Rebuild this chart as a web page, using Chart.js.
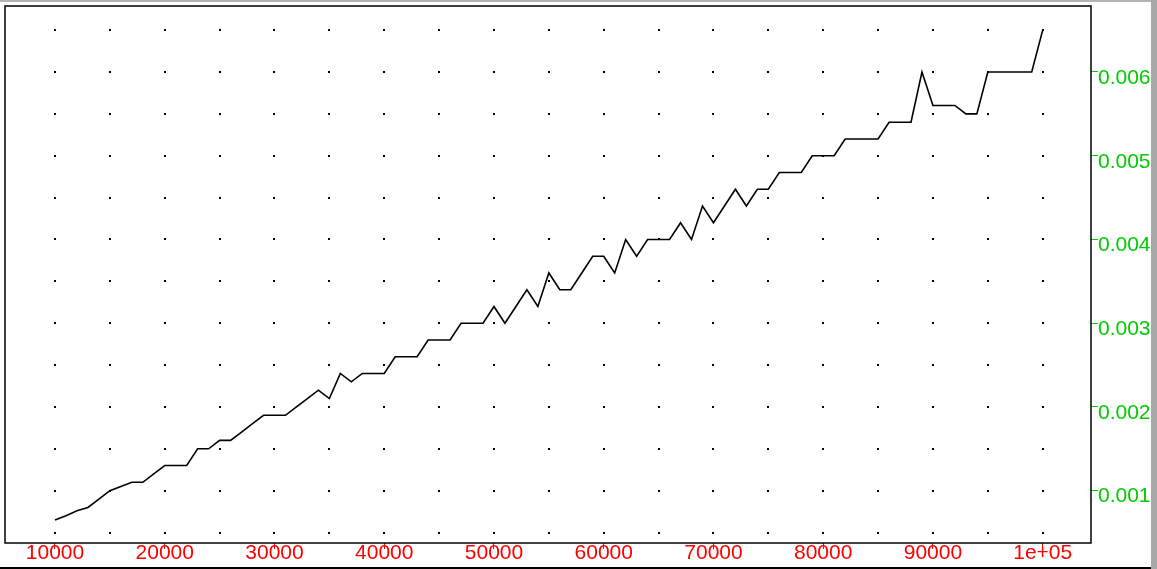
<!DOCTYPE html>
<html>
<head>
<meta charset="utf-8">
<script src="https://cdn.jsdelivr.net/npm/chart.js@4/dist/chart.umd.min.js"></script>
<style>
  html, body { margin: 0; padding: 0; background: #fff; }
  canvas { display: block; }
</style>
</head>
<body>
<canvas id="chart" width="1157" height="569"></canvas>
<script>
// problem size along x, measured time along y
const sizes = [
    10000, 11000, 12000, 13000, 14000, 15000, 16000, 17000, 18000, 19000,
    20000, 21000, 22000, 23000, 24000, 25000, 26000, 27000, 28000, 29000,
    30000, 31000, 32000, 33000, 34000, 35000, 36000, 37000, 38000, 39000,
    40000, 41000, 42000, 43000, 44000, 45000, 46000, 47000, 48000, 49000,
    50000, 51000, 52000, 53000, 54000, 55000, 56000, 57000, 58000, 59000,
    60000, 61000, 62000, 63000, 64000, 65000, 66000, 67000, 68000, 69000,
    70000, 71000, 72000, 73000, 74000, 75000, 76000, 77000, 78000, 79000,
    80000, 81000, 82000, 83000, 84000, 85000, 86000, 87000, 88000, 89000,
    90000, 91000, 92000, 93000, 94000, 95000, 96000, 97000, 98000, 99000,
    100000
];
const times = [
    0.00065, 0.0007, 0.00076, 0.0008, 0.0009, 0.001, 0.00105, 0.0011, 0.0011, 0.0012,
    0.0013, 0.0013, 0.0013, 0.0015, 0.0015, 0.0016, 0.0016, 0.0017, 0.0018, 0.0019,
    0.0019, 0.0019, 0.002, 0.0021, 0.0022, 0.0021, 0.0024, 0.0023, 0.0024, 0.0024,
    0.0024, 0.0026, 0.0026, 0.0026, 0.0028, 0.0028, 0.0028, 0.003, 0.003, 0.003,
    0.0032, 0.003, 0.0032, 0.0034, 0.0032, 0.0036, 0.0034, 0.0034, 0.0036, 0.0038,
    0.0038, 0.0036, 0.004, 0.0038, 0.004, 0.004, 0.004, 0.0042, 0.004, 0.0044,
    0.0042, 0.0044, 0.0046, 0.0044, 0.0046, 0.0046, 0.0048, 0.0048, 0.0048, 0.005,
    0.005, 0.005, 0.0052, 0.0052, 0.0052, 0.0052, 0.0054, 0.0054, 0.0054, 0.006,
    0.0056, 0.0056, 0.0056, 0.0055, 0.0055, 0.006, 0.006, 0.006, 0.006, 0.006,
    0.0065
];
const xTicks = [10000, 20000, 30000, 40000, 50000, 60000, 70000, 80000, 90000, 100000];
const yTicks = [0.001, 0.002, 0.003, 0.004, 0.005, 0.006];

const FONT = { family: "'Liberation Sans', Arial, sans-serif", size: 21 };

// dotted grid: a small dot at every 5000 on x and every 0.0005 on y
const dotGrid = {
    id: 'dotGrid',
    beforeDatasetsDraw(chart) {
        const ctx = chart.ctx;
        const xs = chart.scales.x, ys = chart.scales.y;
        ctx.save();
        ctx.fillStyle = '#000';
        for (let xv = 10000; xv <= 100000; xv += 5000) {
            for (let k = 1; k <= 13; k++) {
                const px = Math.round(xs.getPixelForValue(xv));
                const py = Math.round(ys.getPixelForValue(k * 0.0005));
                ctx.fillRect(px - 1, py - 1, 2, 2);
            }
        }
        ctx.restore();
    }
};

// plot frame plus the window edges seen in the screenshot
const frame = {
    id: 'frame',
    beforeDraw(chart) {
        const ctx = chart.ctx;
        ctx.save();
        ctx.fillStyle = '#fff';
        ctx.fillRect(0, 0, chart.width, chart.height);
        ctx.restore();
    },
    afterDraw(chart) {
        const ctx = chart.ctx;
        const a = chart.chartArea;
        ctx.save();
        ctx.strokeStyle = '#000';
        ctx.lineWidth = 1.5;
        ctx.strokeRect(a.left, a.top, a.right - a.left, a.bottom - a.top);
        ctx.fillStyle = '#b4b4b4';
        ctx.fillRect(0, 0, chart.width, 2);
        ctx.fillStyle = '#a8a8a8';
        ctx.fillRect(1151, 0, 6, chart.height);
        ctx.fillStyle = '#000';
        ctx.fillRect(0, 567, 1151, 2);
        ctx.restore();
    }
};

new Chart(document.getElementById('chart'), {
    type: 'line',
    data: {
        datasets: [{
            data: sizes.map((s, i) => ({ x: s, y: times[i] })),
            borderColor: '#000',
            borderWidth: 1.6,
            pointRadius: 0,
            tension: 0,
            fill: false
        }]
    },
    options: {
        responsive: false,
        animation: false,
        devicePixelRatio: 1,
        layout: { padding: { left: 5, top: 6, right: 0, bottom: 0 } },
        plugins: { legend: { display: false }, tooltip: { enabled: false } },
        scales: {
            x: {
                type: 'linear',
                position: 'bottom',
                min: 5444,
                max: 104401,
                afterBuildTicks: s => { s.ticks = xTicks.map(v => ({ value: v })); },
                afterFit: s => { s.height = 26; s.paddingLeft = 0; s.paddingRight = 0; },
                border: { display: false },
                grid: { drawOnChartArea: false, drawTicks: true, tickLength: 6, tickColor: '#ff0000', lineWidth: 1 },
                ticks: {
                    color: '#ff0000',
                    font: FONT,
                    padding: -8,
                    maxRotation: 0,
                    autoSkip: false,
                    callback: v => v === 100000 ? '1e+05' : String(v)
                }
            },
            y: {
                type: 'linear',
                position: 'right',
                min: 0.000375,
                max: 0.006788,
                afterBuildTicks: s => { s.ticks = yTicks.map(v => ({ value: v })); },
                afterFit: s => { s.width = 66; s.paddingTop = 0; s.paddingBottom = 0; },
                border: { display: false },
                grid: { drawOnChartArea: false, drawTicks: true, tickLength: 7, tickColor: '#00cc00', lineWidth: 1 },
                ticks: {
                    color: '#00cc00',
                    font: FONT,
                    padding: 0,
                    labelOffset: 6,
                    autoSkip: false,
                    callback: v => String(+v.toFixed(3))
                }
            }
        }
    },
    plugins: [dotGrid, frame]
});
</script>
</body>
</html>
